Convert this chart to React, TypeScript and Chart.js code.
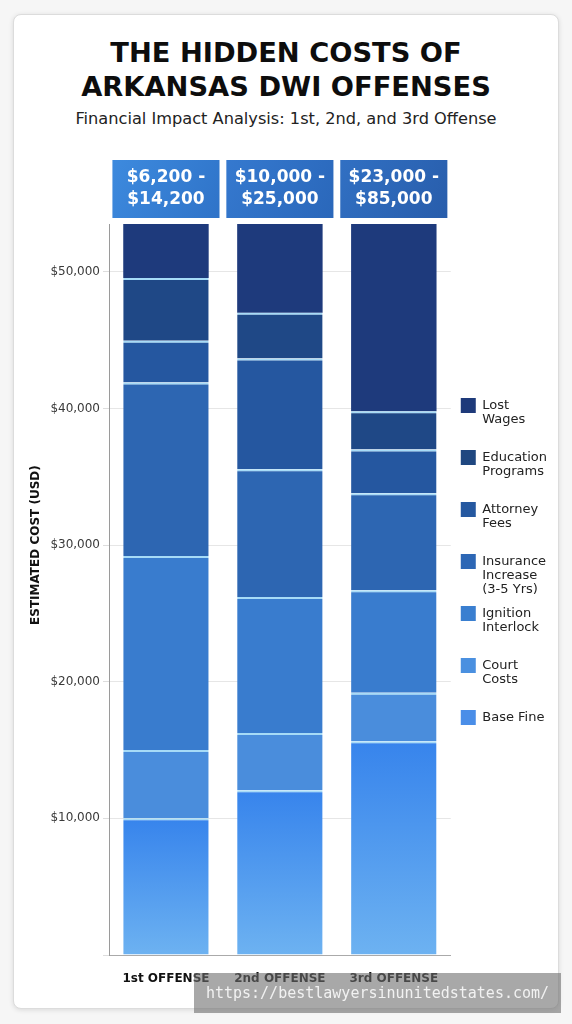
import React, { useEffect, useRef } from 'react';
import { Chart, registerables } from 'chart.js';

Chart.register(...registerables);

// ---- data ----
const offenses = ['1st OFFENSE', '2nd OFFENSE', '3rd OFFENSE'];
const costRanges = ['$6,200 - $14,200', '$10,000 - $25,000', '$23,000 - $85,000'];

const baseFine = [10000, 12050, 15650];
const courtCosts = [5000, 4200, 3550];
const ignitionInterlock = [14200, 9950, 7500];
const insuranceIncrease = [12700, 9350, 7100];
const attorneyFees = [3050, 8100, 3200];
const educationPrograms = [4600, 3350, 2800];
const lostWages = [3950, 6500, 13700];

const seriesNames = [
  'Base Fine',
  'Court Costs',
  'Ignition Interlock',
  'Insurance Increase (3-5 Yrs)',
  'Attorney Fees',
  'Education Programs',
  'Lost Wages',
];
const legendLines = [
  ['Base Fine'],
  ['Court', 'Costs', ''],
  ['Ignition', 'Interlock', ''],
  ['Insurance', 'Increase', '(3-5 Yrs)'],
  ['Attorney', 'Fees', ''],
  ['Education', 'Programs', ''],
  ['Lost', 'Wages', ''],
];
const yTickValues = [0, 10000, 20000, 30000, 40000, 50000];
const yMax = 53500;
const yAxisTitle = 'ESTIMATED COST (USD)';
const yTitleAnchor = 30000;

// ---- styles ----
const FONT = '"DejaVu Sans", "Open Sans", sans-serif';
const segmentColors = ['#4a8ee8', '#4a8ddc', '#397cce', '#2d66b2', '#2557a0', '#1f4886', '#1e3a7c'];
const legendColors = ['#4a8ee8', '#4a90e0', '#3a7fd0', '#2d67b5', '#2558a0', '#1f4780', '#1e3a7a'];
const badgeColors = [
  ['#3d8ade', '#2f73c8'],
  ['#3579cf', '#2a67ba'],
  ['#3170c3', '#285dab'],
];

const allSeries = [baseFine, courtCosts, ignitionInterlock, insuranceIncrease, attorneyFees, educationPrograms, lostWages];

const decorPlugin = {
  id: 'decor',
  afterDraw(chart: any) {
    const { ctx, chartArea, scales } = chart;
    const x = scales.x;
    const y = scales.y;
    const cw = x.getPixelForValue(1) - x.getPixelForValue(0);
    const w = cw * 0.94;
    const h = 58;
    const top = chartArea.top - 64;
    ctx.save();
    costRanges.forEach((txt, i) => {
      const cx = x.getPixelForValue(i);
      const g = ctx.createLinearGradient(cx - w / 2, top, cx + w / 2, top + h);
      g.addColorStop(0, badgeColors[i][0]);
      g.addColorStop(1, badgeColors[i][1]);
      ctx.fillStyle = g;
      ctx.fillRect(cx - w / 2, top, w, h);
      const parts = txt.split(' - ');
      ctx.fillStyle = '#ffffff';
      ctx.font = 'bold 17px ' + FONT;
      ctx.textAlign = 'center';
      ctx.textBaseline = 'middle';
      ctx.fillText(parts[0] + ' -', cx, top + h / 2 - 11);
      ctx.fillText(parts[1], cx, top + h / 2 + 11);
    });
    // rotated y-axis title
    ctx.translate(y.left + 21.5, y.getPixelForValue(yTitleAnchor));
    ctx.rotate(-Math.PI / 2);
    ctx.fillStyle = '#111';
    ctx.font = 'bold 12px ' + FONT;
    ctx.textAlign = 'center';
    ctx.textBaseline = 'middle';
    ctx.fillText(yAxisTitle, 0, 0);
    ctx.restore();
  },
};

function baseFineFill(c: any) {
  const chart = c.chart;
  const y = chart.scales && chart.scales.y;
  if (c.type !== 'data' || !y || !chart.chartArea) return segmentColors[0];
  const v = baseFine[c.dataIndex];
  const top = y.getPixelForValue(v);
  const bottom = y.getPixelForValue(0);
  const g = chart.ctx.createLinearGradient(0, top, 0, bottom);
  g.addColorStop(0, '#3784ec');
  g.addColorStop(1, '#6db2f1');
  return g;
}

export default function App() {
  const ref = useRef<HTMLCanvasElement | null>(null);

  useEffect(() => {
    if (!ref.current) return;
    const datasets = allSeries.map((data, i) => ({
      label: seriesNames[i],
      data,
      backgroundColor: i === 0 ? baseFineFill : segmentColors[i],
      borderColor: '#a6dbf7',
      borderWidth: { top: i === allSeries.length - 1 ? 0 : 2, left: 0, right: 0, bottom: 0 },
      borderSkipped: 'start',
      barPercentage: 0.75,
      categoryPercentage: 1.0,
      stack: 'costs',
    }));

    const chart = new Chart(ref.current, {
      type: 'bar',
      data: { labels: offenses, datasets },
      options: {
        animation: false,
        responsive: false,
        layout: { padding: { top: 74, right: 1, bottom: 0, left: 0 } },
        plugins: {
          tooltip: { enabled: false },
          legend: {
            position: 'right',
            align: 'start',
            fullSize: false,
            reverse: true,
            title: { display: true, text: ' ', font: { size: 10, lineHeight: 1 }, padding: { top: 154, bottom: 0 } },
            labels: {
              boxWidth: 15,
              boxHeight: 15,
              padding: 10,
              color: '#222',
              font: { family: FONT, size: 13, lineHeight: '14px' },
              generateLabels: () =>
                seriesNames.map((name, i) => ({
                  text: legendLines[i] as any,
                  fillStyle: legendColors[i],
                  strokeStyle: legendColors[i],
                  lineWidth: 0,
                  hidden: false,
                  datasetIndex: i,
                  fontColor: '#222',
                })),
            },
          },
        },
        scales: {
          x: {
            stacked: true,
            grid: { display: false },
            border: { display: true, color: '#aaaaaa', width: 1 },
            ticks: {
              color: '#111',
              padding: 9,
              font: { family: FONT, size: 12, weight: 'bold' },
            },
            afterFit: (s: any) => {
              s.height = 45;
            },
          },
          y: {
            stacked: true,
            min: 0,
            max: yMax,
            border: { display: true, color: '#9a9a9a', width: 1 },
            grid: { color: '#e6e6e6', tickLength: 6, tickColor: '#dddddd' },
            ticks: {
              padding: 3,
              color: '#3a3a3a',
              font: { family: FONT, size: 12 },
              callback: (v: any) => (Number(v) === 0 ? '' : '$' + Number(v).toLocaleString('en-US')),
            },
            afterBuildTicks: (s: any) => {
              s.ticks = yTickValues.map((v) => ({ value: v }));
            },
            afterFit: (s: any) => {
              s.width = 95;
            },
          },
        },
      },
      plugins: [decorPlugin],
    } as any);
    return () => chart.destroy();
  }, []);

  return (
    <div
      style={{
        position: 'absolute',
        left: 0,
        top: 0,
        width: 572,
        height: 1024,
        background: '#f6f6f6',
        overflow: 'hidden',
        fontFamily: FONT,
      }}
    >
      <div
        style={{
          position: 'absolute',
          left: 13,
          top: 14,
          width: 546,
          height: 995,
          background: '#ffffff',
          border: '1px solid #dcdcdc',
          borderRadius: 8,
          boxShadow: '0 1px 5px rgba(0,0,0,0.12)',
          boxSizing: 'border-box',
        }}
      />
      <div
        style={{
          position: 'absolute',
          left: 0,
          top: 36,
          width: 572,
          textAlign: 'center',
          fontWeight: 'bold',
          fontSize: 27.3,
          lineHeight: '34px',
          color: '#0d0d0d',
          whiteSpace: 'nowrap',
        }}
      >
        THE HIDDEN COSTS OF
        <br />
        ARKANSAS DWI OFFENSES
      </div>
      <div
        style={{
          position: 'absolute',
          left: 0,
          top: 109,
          width: 572,
          textAlign: 'center',
          fontSize: 16.2,
          lineHeight: '20px',
          color: '#222',
          whiteSpace: 'nowrap',
        }}
      >
        Financial Impact Analysis: 1st, 2nd, and 3rd Offense
      </div>
      <canvas
        ref={ref}
        width={544}
        height={850}
        style={{ position: 'absolute', left: 14, top: 150, width: 544, height: 850 }}
      />
      <div
        style={{
          position: 'absolute',
          left: 194,
          top: 973,
          width: 367,
          height: 40,
          background: 'rgba(110,110,110,0.6)',
          color: '#f2f2f2',
          fontFamily: '"DejaVu Sans Mono", monospace',
          fontSize: 15,
          lineHeight: '40px',
          textAlign: 'center',
        }}
      >
        https://bestlawyersinunitedstates.com/
      </div>
    </div>
  );
}
